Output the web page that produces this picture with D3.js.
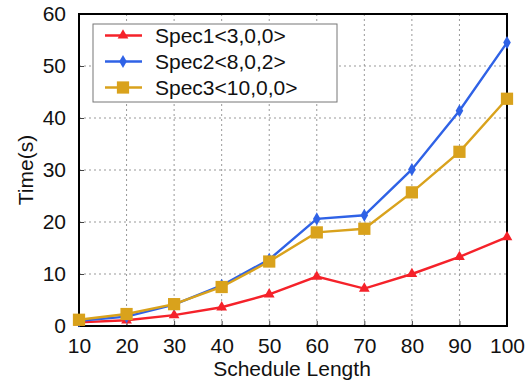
<!DOCTYPE html>
<html>
<head>
<meta charset="utf-8">
<script src="https://cdn.jsdelivr.net/npm/d3@7"></script>
<style>
  body { margin: 0; background: #fff; }
  text { font-family: "Liberation Sans", Arial, sans-serif; fill: #111; }
</style>
</head>
<body>
<div class="chartWrap"></div>
<script>
// data
const lengths = [10, 20, 30, 40, 50, 60, 70, 80, 90, 100];
const spec1 = [0.7, 1.1, 2.1, 3.6, 6.1, 9.5, 7.2, 10.0, 13.3, 17.1];
const spec2 = [1.0, 1.8, 4.1, 7.8, 12.8, 20.6, 21.3, 30.1, 41.4, 54.5];
const spec3 = [1.2, 2.3, 4.2, 7.5, 12.4, 18.0, 18.7, 25.7, 33.5, 43.7];
const seriesNames = ["Spec1<3,0,0>", "Spec2<8,0,2>", "Spec3<10,0,0>"];
const yTicks = [0, 10, 20, 30, 40, 50, 60];

const w = 529, h = 384,
  margin = {top: 14, right: 22, bottom: 58, left: 79},
  fs = 21;

const series = [
  {name: seriesNames[0], vals: spec1, color: "#f5222a", shape: d3.symbolTriangle, size: 50},
  {name: seriesNames[1], vals: spec2, color: "#2f62e6", shape: d3.symbolDiamond, size: 50},
  {name: seriesNames[2], vals: spec3, color: "#d9a21c", shape: d3.symbolSquare, size: 150}
];

const svg = d3.select(".chartWrap").append("svg").attr("width", w).attr("height", h);

const x = d3.scaleLinear().domain([10, 100]).range([margin.left, w - margin.right]);
const y = d3.scaleLinear().domain([0, 60]).range([h - margin.bottom, margin.top]);

//grid
svg.append("g").selectAll("line").data(lengths.slice(1, -1)).enter().append("line")
  .attr("x1", d => x(d)).attr("x2", d => x(d))
  .attr("y1", y(0)).attr("y2", y(60))
  .attr("stroke", "#999").attr("stroke-width", 1).attr("stroke-dasharray", "2,3");
svg.append("g").selectAll("line").data(yTicks.slice(1, -1)).enter().append("line")
  .attr("x1", x(10)).attr("x2", x(100))
  .attr("y1", d => y(d)).attr("y2", d => y(d))
  .attr("stroke", "#999").attr("stroke-width", 1).attr("stroke-dasharray", "2,3");

//axes
const xAxis = d3.axisBottom(x).tickValues(lengths).tickSize(-5).tickPadding(12);
const yAxis = d3.axisLeft(y).tickValues(yTicks).tickSize(-5).tickPadding(13);
const gx = svg.append("g").attr("transform", "translate(0," + y(0) + ")").call(xAxis);
const gy = svg.append("g").attr("transform", "translate(" + x(10) + ",0)").call(yAxis);
[gx, gy].forEach(g => {
  g.select(".domain").remove();
  g.selectAll("line").attr("stroke", "#444");
  g.selectAll("text").attr("font-size", fs).attr("fill", "#111")
    .style("font-family", "Liberation Sans, Arial, sans-serif");
});
gx.selectAll("text").attr("dy", "0.71em");

//frame
svg.append("rect").attr("x", x(10)).attr("y", y(60))
  .attr("width", x(100) - x(10)).attr("height", y(0) - y(60))
  .attr("fill", "none").attr("stroke", "#000").attr("stroke-width", 2);

//lines + markers
const line = d3.line().x((d, i) => x(lengths[i])).y(d => y(d));
series.forEach(s => {
  svg.append("path").datum(s.vals).attr("d", line)
    .attr("fill", "none").attr("stroke", s.color).attr("stroke-width", 2.4);
  svg.append("g").selectAll("path").data(s.vals).enter().append("path")
    .attr("d", d3.symbol().type(s.shape).size(s.size))
    .attr("transform", (d, i) => "translate(" + x(lengths[i]) + "," + y(d) + ")")
    .attr("fill", s.color);
});

//legend
const lg = svg.append("g");
lg.append("rect").attr("x", 93).attr("y", 24).attr("width", 244).attr("height", 78)
  .attr("fill", "#fff").attr("stroke", "#777").attr("stroke-width", 1);
series.forEach((s, i) => {
  let ly = 35.5 + i * 26;
  lg.append("line").attr("x1", 105).attr("x2", 142).attr("y1", ly).attr("y2", ly)
    .attr("stroke", s.color).attr("stroke-width", 2.4);
  lg.append("path").attr("d", d3.symbol().type(s.shape).size(s.size))
    .attr("transform", "translate(123," + ly + ")").attr("fill", s.color);
  lg.append("text").text(s.name).attr("x", 155).attr("y", ly).attr("dy", "0.35em")
    .attr("font-size", fs);
});

//axis titles
svg.append("text").text("Schedule Length").attr("x", 292).attr("y", 376)
  .attr("text-anchor", "middle").attr("font-size", fs);
svg.append("text").text("Time(s)").attr("transform", "translate(33," + y(30) + ") rotate(-90)")
  .attr("text-anchor", "middle").attr("font-size", fs);
</script>
</body>
</html>
